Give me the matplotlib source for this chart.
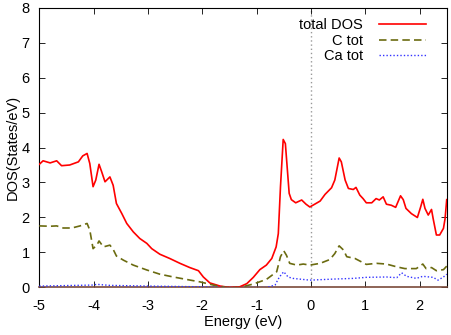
import matplotlib
matplotlib.use("Agg")
import matplotlib.pyplot as plt

plt.rcParams['font.family'] = ['Liberation Sans', 'DejaVu Sans']

total_x = [-5.00, -4.93, -4.80, -4.68, -4.59, -4.44, -4.28, -4.20, -4.12, -4.07, -4.01, -3.96,
           -3.90, -3.85, -3.79, -3.70, -3.64, -3.58, -3.48, -3.39, -3.27, -3.15, -3.02, -2.93,
           -2.78, -2.60, -2.41, -2.23, -2.07, -1.98, -1.86, -1.67, -1.49, -1.31, -1.18, -1.06,
           -0.94, -0.82, -0.72, -0.64, -0.60, -0.56, -0.51, -0.47, -0.40, -0.36, -0.28, -0.17,
           -0.09, -0.02, 0.07, 0.17, 0.26, 0.38, 0.44, 0.52, 0.56, 0.63, 0.69, 0.78, 0.83,
           0.90, 0.96, 1.02, 1.12, 1.20, 1.26, 1.33, 1.39, 1.48, 1.56, 1.65, 1.70, 1.75, 1.85,
           1.96, 2.02, 2.06, 2.10, 2.16, 2.22, 2.25, 2.31, 2.37, 2.44, 2.47, 2.50]
total_y = [3.52, 3.62, 3.56, 3.62, 3.48, 3.50, 3.59, 3.76, 3.83, 3.54, 2.88, 3.07,
           3.52, 3.30, 3.02, 3.16, 2.92, 2.40, 2.11, 1.83, 1.59, 1.40, 1.26, 1.11,
           0.95, 0.83, 0.69, 0.57, 0.48, 0.30, 0.13, 0.04, 0.00, 0.02, 0.11, 0.29,
           0.51, 0.64, 0.83, 1.16, 1.54, 2.88, 4.23, 4.11, 2.69, 2.51, 2.42, 2.50,
           2.38, 2.30, 2.38, 2.47, 2.66, 2.85, 3.07, 3.70, 3.59, 3.07, 2.83, 2.80, 2.86,
           2.64, 2.54, 2.42, 2.42, 2.54, 2.50, 2.59, 2.38, 2.35, 2.29, 2.62, 2.51, 2.26, 2.11,
           2.00, 2.30, 2.52, 2.26, 2.07, 2.23, 1.97, 1.50, 1.50, 1.69, 1.97, 2.51]

c_x = [-5.00, -4.80, -4.68, -4.56, -4.40, -4.25, -4.12, -4.07, -4.01, -3.94, -3.90, -3.82,
       -3.70, -3.64, -3.58, -3.45, -3.27, -3.02, -2.78, -2.53, -2.29, -2.04, -1.80, -1.55,
       -1.31, -1.06, -0.82, -0.63, -0.56, -0.50, -0.45, -0.39, -0.26, -0.14, -0.02, 0.17,
       0.35, 0.44, 0.52, 0.60, 0.66, 0.81, 1.02, 1.21, 1.39, 1.58, 1.73, 1.94, 2.06, 2.12,
       2.22, 2.31, 2.44, 2.50]
c_y = [1.76, 1.75, 1.76, 1.70, 1.70, 1.76, 1.83, 1.64, 1.11, 1.21, 1.33, 1.16,
       1.21, 1.09, 0.90, 0.78, 0.64, 0.50, 0.38, 0.30, 0.23, 0.16, 0.07, 0.00,
       0.00, 0.10, 0.23, 0.45, 0.88, 1.05, 0.92, 0.69, 0.64, 0.67, 0.64, 0.69,
       0.80, 0.97, 1.19, 1.07, 0.88, 0.83, 0.66, 0.69, 0.67, 0.59, 0.54, 0.54, 0.67, 0.54,
       0.57, 0.48, 0.51, 0.61]

ca_x = [-5.00, -4.01, -3.94, -3.70, -2.96, -2.04, -1.55, -0.82, -0.66, -0.58, -0.50, -0.42,
        -0.33, -0.02, 0.41, 0.78, 1.02, 1.39, 1.58, 1.67, 1.76, 1.94, 2.06, 2.25, 2.34,
        2.44, 2.50]
ca_y = [0.04, 0.07, 0.09, 0.06, 0.04, 0.02, 0.00, 0.00, 0.07, 0.30, 0.45, 0.30,
        0.26, 0.21, 0.24, 0.26, 0.29, 0.30, 0.28, 0.42, 0.32, 0.26, 0.32, 0.29, 0.21,
        0.30, 0.38]

xticks = [-5, -4, -3, -2, -1, 0, 1, 2]
yticks = [0, 1, 2, 3, 4, 5, 6, 7, 8]

fig = plt.figure(figsize=(4.51, 3.35), dpi=100)
ax = fig.add_axes([0.0871, 0.1418, 0.9034, 0.8358])

ax.axvline(0, color='#999999', linestyle=(0, (1, 2)), linewidth=1.0, zorder=1)
ax.plot(total_x, total_y, color='#ff0000', linewidth=1.2, label='total DOS', zorder=3)
ax.plot(c_x, c_y, color='#6b6b10', linewidth=1.2, linestyle=(0, (4.5, 2.5)), label='C tot', zorder=3)
ax.plot(ca_x, ca_y, color='#3333ff', linewidth=1.0, linestyle=(0, (1, 1.5)), label='Ca tot', zorder=3)

ax.set_xlim(-5, 2.5)
ax.set_ylim(0, 8)
ax.set_xticks(xticks)
ax.set_yticks(yticks)
ax.set_xticklabels([str(t) for t in xticks])
ax.set_yticklabels([str(t) for t in yticks])
ax.tick_params(direction='in', length=4, width=0.6, top=True, right=True,
               labelsize=10.5, colors='black')
ax.tick_params(axis='x', pad=8)
ax.tick_params(axis='y', pad=7)
for s in ax.spines.values():
    s.set_linewidth(0.8)
ax.spines['bottom'].set_color('#7a4a3a')
ax.spines['bottom'].set_linewidth(1.2)

ax.set_xlabel('Energy (eV)', fontsize=10.5, labelpad=1.5)
ax.set_ylabel('DOS(States/eV)', fontsize=10.5, labelpad=1)

leg = ax.legend(loc='upper right', frameon=False, markerfirst=False, fontsize=10.5,
                handlelength=3.2, handletextpad=1.1, labelspacing=0.1,
                bbox_to_anchor=(0.975, 1.0), borderaxespad=0.35)
for col in leg._legend_handle_box.get_children():
    col.align = 'right'

fig.savefig('out.png', dpi=100)
